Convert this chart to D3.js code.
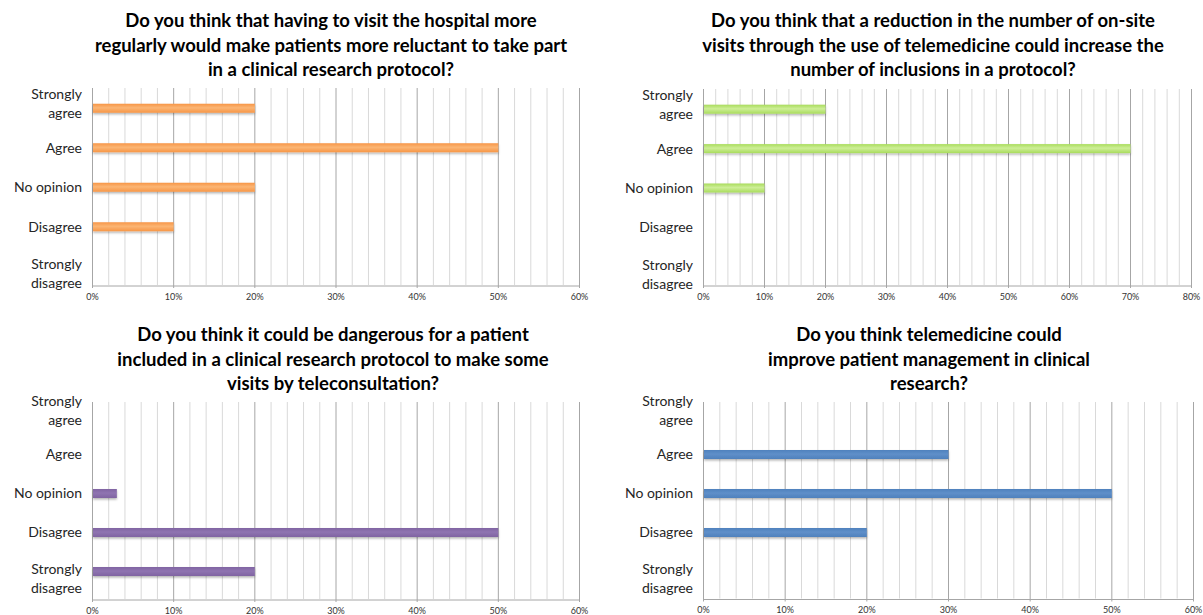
<!DOCTYPE html>
<html>
<head>
<meta charset="utf-8">
<script src="https://cdn.jsdelivr.net/npm/d3@7"></script>
<style>
  html, body { margin: 0; padding: 0; background: #fff; }
  svg { display: block; }
</style>
</head>
<body>
<svg id="chart" width="1203" height="615"></svg>
<script>
// ---------------- DATA ----------------
const categories = ["Strongly agree", "Agree", "No opinion", "Disagree", "Strongly disagree"];

const titles1 = ["Do you think that having to visit the hospital more",
                 "regularly would make patients more reluctant to take part",
                 "in a clinical research protocol?"];
const titles2 = ["Do you think that a reduction in the number of on-site",
                 "visits through the use of telemedicine could increase the",
                 "number of inclusions in a protocol?"];
const titles3 = ["Do you think it could be dangerous for a patient",
                 "included in a clinical research protocol to make some",
                 "visits by teleconsultation?"];
const titles4 = ["Do you think telemedicine could",
                 "improve patient management in clinical",
                 "research?"];

const values1 = [20, 50, 20, 10, 0];
const values2 = [20, 70, 10, 0, 0];
const values3 = [0, 0, 3, 50, 20];
const values4 = [0, 30, 50, 20, 0];

const xMax1 = 60, xMax2 = 80, xMax3 = 60, xMax4 = 60;
const majorTicks1 = [0, 10, 20, 30, 40, 50, 60];
const majorTicks2 = [0, 10, 20, 30, 40, 50, 60, 70, 80];

// ---------------- LAYOUT / STYLE ----------------
const panels = [
  { titles: titles1, values: values1, xMax: xMax1, ticks: majorTicks1, color: "#F79646", light: "#FBB574",
    x0: 92, x1: 579, gridTop: 88, axisY: 285, band: [88.5, 286], titleX: 331, titleY: [21, 46, 70] },
  { titles: titles2, values: values2, xMax: xMax2, ticks: majorTicks2, color: "#A9DC5C", light: "#CDEE97",
    x0: 703, x1: 1191, gridTop: 89, axisY: 285, band: [89.5, 286.5], titleX: 933, titleY: [21, 46, 70] },
  { titles: titles3, values: values3, xMax: xMax3, ticks: majorTicks1, color: "#8064A2", light: "#8F74B1",
    x0: 92, x1: 579, gridTop: 402, axisY: 599, band: [396, 591], titleX: 333, titleY: [335, 360, 384] },
  { titles: titles4, values: values4, xMax: xMax4, ticks: majorTicks1, color: "#4F81BD", light: "#5F8FC9",
    x0: 703, x1: 1193, gridTop: 402, axisY: 598.5, band: [396, 591], titleX: 929, titleY: [335, 360, 384] }
];

const svg = d3.select("#chart");
const defs = svg.append("defs");
const shadow = defs.append("filter").attr("id", "shadow")
  .attr("x", "-5%").attr("y", "-50%").attr("width", "110%").attr("height", "220%");
shadow.append("feDropShadow").attr("dx", 0).attr("dy", 1.5).attr("stdDeviation", 0.9)
  .attr("flood-color", "#000").attr("flood-opacity", 0.3);

const FONT = "Lato, 'Open Sans', sans-serif";

panels.forEach((p, i) => {
  const g = svg.append("g");
  const x = d3.scaleLinear().domain([0, p.xMax]).range([p.x0, p.x1]);
  const y = d3.scaleBand().domain(categories).range(p.band);

  // gradient
  const grad = defs.append("linearGradient").attr("id", "grad" + i)
    .attr("x1", 0).attr("y1", 0).attr("x2", 0).attr("y2", 1);
  grad.append("stop").attr("offset", "0%").attr("stop-color", p.color);
  grad.append("stop").attr("offset", "45%").attr("stop-color", p.light);
  grad.append("stop").attr("offset", "100%").attr("stop-color", p.color);

  // minor gridlines (every 2%)
  const minor = d3.range(0, p.xMax + 0.001, 2).filter(v => v % 10 !== 0);
  g.selectAll(".minor").data(minor).join("line")
    .attr("x1", d => x(d) + 0.5).attr("x2", d => x(d) + 0.5)
    .attr("y1", p.gridTop).attr("y2", p.axisY)
    .attr("stroke", "#d9d9d9").attr("stroke-width", 1);

  // major gridlines
  g.selectAll(".major").data(p.ticks).join("line")
    .attr("x1", d => x(d) + 0.5).attr("x2", d => x(d) + 0.5)
    .attr("y1", p.gridTop).attr("y2", p.axisY + 3)
    .attr("stroke", "#a6a6a6").attr("stroke-width", 1);

  // bottom axis
  const axis = d3.axisBottom(x).tickValues(p.ticks).tickFormat(d => d + "%").tickSize(0).tickPadding(8);
  const ag = g.append("g").attr("transform", `translate(0,${p.axisY + 0.5})`).call(axis);
  ag.select(".domain").attr("stroke", "#a6a6a6");
  ag.selectAll("text").attr("font-family", FONT).attr("font-size", 9).attr("fill", "#333");

  // left axis line
  g.append("line").attr("x1", p.x0 + 0.5).attr("x2", p.x0 + 0.5)
    .attr("y1", p.gridTop).attr("y2", p.axisY).attr("stroke", "#a6a6a6");

  // bars
  const barH = 9;
  g.selectAll(".bar").data(categories.map((c, k) => ({ c, v: p.values[k] })).filter(d => d.v > 0))
    .join("rect")
    .attr("x", x(0) + 1)
    .attr("y", d => y(d.c) + y.bandwidth() / 2 - barH / 2)
    .attr("width", d => x(d.v) - x(0) - 0.5)
    .attr("height", barH)
    .attr("fill", `url(#grad${i})`)
    .attr("filter", "url(#shadow)");

  // category labels
  const last = categories.length - 1;
  categories.forEach((c, k) => {
    const cy = y(c) + y.bandwidth() / 2;
    const words = c.split(" ");
    let lines, offs;
    if (words.length > 1 && c.startsWith("Strongly")) {
      lines = [words[0], words.slice(1).join(" ")];
      offs = k === 0 ? [-14, 4.5] : (k === last ? [-2, 17] : [-9, 9]);
    } else {
      lines = [c]; offs = [0];
    }
    lines.forEach((t, li) => {
      g.append("text").attr("x", p.x0 - 10).attr("y", cy + offs[li])
        .attr("dy", "0.35em").attr("text-anchor", "end")
        .attr("font-family", FONT).attr("font-size", 14).attr("fill", "#262626")
        .text(t);
    });
  });

  // title
  p.titles.forEach((t, li) => {
    g.append("text").attr("x", p.titleX).attr("y", p.titleY[li]).attr("dy", "0.35em")
      .attr("text-anchor", "middle").attr("font-family", FONT).attr("font-weight", "bold")
      .attr("font-size", 18.5).attr("fill", "#000").text(t);
  });
});
</script>
</body>
</html>
